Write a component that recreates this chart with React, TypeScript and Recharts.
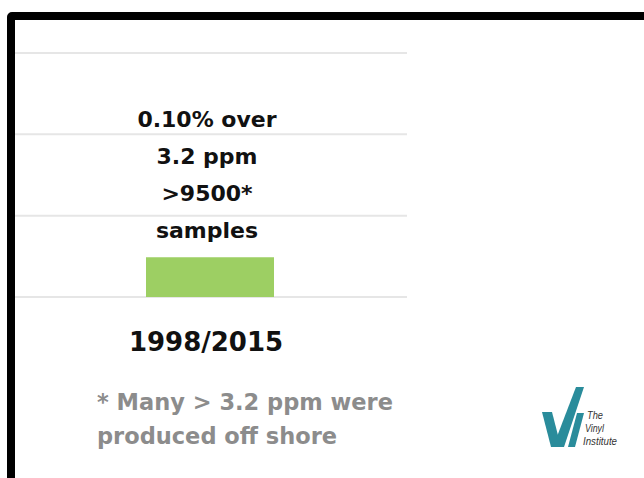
import { BarChart, Bar, XAxis, YAxis, CartesianGrid, LabelList } from 'recharts';

const categories = ['1998/2015'];
const values = [0.49];
const yTicks = [0, 1, 2, 3];
const labelLines = ['0.10% over', '3.2 ppm', '>9500*', 'samples'];
const footnoteLines = ['* Many > 3.2 ppm were', 'produced off shore'];
const logoLines = ['The', 'Vinyl', 'Institute'];

const data = categories.map((c, i) => ({ period: c, value: values[i] }));

const BOLD = '"DejaVu Sans", sans-serif';

interface TickProps {
  x?: number;
  y?: number;
  payload?: { value: string };
}

function CategoryTick({ x = 0, y = 0, payload }: TickProps) {
  return (
    <text x={x - 4} y={y} dy={46} textAnchor="middle" fontFamily={BOLD} fontWeight="bold" fontSize={26} fill="#111">
      {payload?.value}
    </text>
  );
}

interface BarLabelProps {
  x?: number | string;
  y?: number | string;
  width?: number | string;
}

function StackedLabel({ x = 0, y = 0, width = 0 }: BarLabelProps) {
  const cx = Number(x) + Number(width) / 2 - 3;
  const top = Number(y);
  const n = labelLines.length;
  return (
    <g>
      {labelLines.map((line, i) => (
        <text
          key={line}
          x={cx}
          y={top - 19 - (n - 1 - i) * 37}
          textAnchor="middle"
          fontFamily={BOLD}
          fontWeight="bold"
          fontSize={22}
          fill="#111"
        >
          {line}
        </text>
      ))}
    </g>
  );
}

export default function App() {
  return (
    <div style={{ position: 'absolute', left: 0, top: 0, width: 644, height: 478, overflow: 'hidden', background: '#fff' }}>
      <div style={{ position: 'absolute', left: 0, top: 0 }}>
        <BarChart width={644} height={478} data={data} margin={{ top: 53, right: 237, bottom: 141, left: 13 }}>
          <CartesianGrid vertical={false} stroke="#e6e6e6" strokeWidth={2} />
          <YAxis hide domain={[0, 3]} ticks={yTicks} />
          <XAxis
            dataKey="period"
            height={40}
            axisLine={false}
            tickLine={false}
            tick={<CategoryTick />}
          />
          <Bar dataKey="value" fill="#9dcf63" barSize={128} isAnimationActive={false}>
            <LabelList dataKey="value" content={<StackedLabel />} />
          </Bar>
        </BarChart>
      </div>
      <svg width={644} height={478} style={{ position: 'absolute', left: 0, top: 0 }}>
        {footnoteLines.map((line, i) => (
          <text key={line} x={97} y={410 + i * 34} fontFamily={BOLD} fontWeight="bold" fontSize={22.5} fill="#8c8c8c">
            {line}
          </text>
        ))}
        <g fill="#2a8c9b">
          <polygon points="542,412 552,412 561,447 551,447" />
          <polygon points="576,387 584,387 564,447 553,447" />
          <polygon points="577,413 584,413 575,447 568,447" />
        </g>
        {logoLines.map((line, i) => (
          <text
            key={line}
            x={587 - i * 2}
            y={419 + i * 13}
            fontFamily='"Liberation Sans Narrow", "Liberation Sans", sans-serif'
            fontStyle="italic"
            fontSize={11}
            fill="#333"
            textLength={[16, 19, 34][i]}
            lengthAdjust="spacingAndGlyphs"
          >
            {line}
          </text>
        ))}
      </svg>
      <div
        style={{
          position: 'absolute',
          left: 7,
          top: 12,
          width: 700,
          height: 520,
          border: '8px solid #000',
          borderRadius: 5,
          boxSizing: 'border-box',
        }}
      />
    </div>
  );
}
